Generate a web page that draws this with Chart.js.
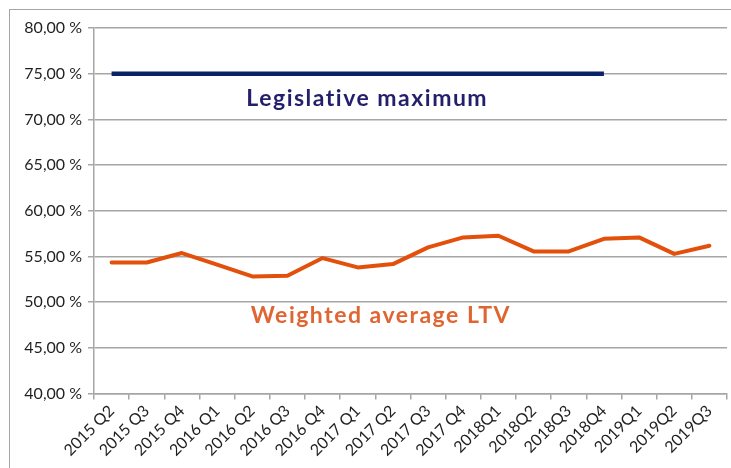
<!DOCTYPE html>
<html>
<head>
<meta charset="utf-8">
<script src="https://cdn.jsdelivr.net/npm/chart.js@4/dist/chart.umd.min.js"></script>
<style>
  html, body { margin:0; padding:0; background:#ffffff; }
  #wrap { position:relative; width:731px; height:468px; overflow:hidden; }
  #frame { position:absolute; left:9px; top:9px; width:800px; height:600px; border:1.5px solid #a6a6a6; box-sizing:border-box; }
  canvas { position:absolute; left:0; top:0; }
</style>
</head>
<body>
<div id="wrap">
  <div id="frame"></div>
  <canvas id="c" width="731" height="468"></canvas>
</div>
<script>
const categories = ["2015 Q2","2015 Q3","2015 Q4","2016 Q1","2016 Q2","2016 Q3","2016 Q4","2017 Q1","2017 Q2","2017 Q3","2017 Q4","2018Q1","2018Q2","2018Q3","2018Q4","2019Q1","2019Q2","2019Q3"];
const weightedLTV = [54.34, 54.34, 55.37, 54.1, 52.81, 52.89, 54.82, 53.8, 54.16, 55.99, 57.08, 57.26, 55.55, 55.55, 56.93, 57.08, 55.28, 56.17];
const legislativeMax = [75, 75, 75, 75, 75, 75, 75, 75, 75, 75, 75, 75, 75, 75, 75, null, null, null];
const yTickValues = [40, 45, 50, 55, 60, 65, 70, 75, 80];
const seriesLabels = ["Legislative maximum", "Weighted average LTV"];
// label anchor positions in data space: [category index (fractional), value]
const labelAnchors = [[7.27, 71.46], [7.66, 47.74]];

const GRID = '#a6a6a6';
const navy = '#0b2366';
const navyText = '#231f6b';
const orange = '#e2500c';
const orangeText = '#df6632';
const FONT = 'Lato, "Open Sans", sans-serif';

const labelPlugin = {
  id: 'seriesLabels',
  afterDatasetsDraw(chart) {
    const ctx = chart.ctx;
    const xs = chart.scales.x, ys = chart.scales.y;
    const step = xs.getPixelForValue(1) - xs.getPixelForValue(0);
    const colors = [navyText, orangeText];
    ctx.save();
    ctx.font = 'bold 23px ' + FONT;
    try { ctx.letterSpacing = '1.5px'; } catch (e) {}
    ctx.textAlign = 'center';
    ctx.textBaseline = 'alphabetic';
    labelAnchors.forEach((a, i) => {
      const x = xs.getPixelForValue(0) + a[0] * step;
      const y = ys.getPixelForValue(a[1]);
      ctx.fillStyle = colors[i];
      ctx.fillText(seriesLabels[i], x, y);
    });
    ctx.restore();
  }
};

new Chart(document.getElementById('c'), {
  type: 'line',
  data: {
    labels: categories,
    datasets: [
      { label: seriesLabels[0], data: legislativeMax, borderColor: navy, borderWidth: 4.5, pointRadius: 0, tension: 0, spanGaps: false, borderCapStyle: 'butt' },
      { label: seriesLabels[1], data: weightedLTV, borderColor: orange, borderWidth: 4, pointRadius: 0, tension: 0, borderCapStyle: 'round', borderJoinStyle: 'round' }
    ]
  },
  options: {
    responsive: false,
    animation: false,
    devicePixelRatio: 1,
    layout: { padding: { top: 28, right: 4, left: 0, bottom: 0 } },
    plugins: { legend: { display: false }, tooltip: { enabled: false } },
    scales: {
      x: {
        type: 'category',
        offset: true,
        grid: { offset: true, drawOnChartArea: false, drawTicks: true, tickLength: 6, color: GRID, lineWidth: 1.5 },
        border: { display: true, color: GRID, width: 1.5 },
        ticks: { autoSkip: false, minRotation: 45, maxRotation: 45, padding: 2, color: '#1f1f1f', font: { family: FONT, size: 16 } },
        afterFit(s) { s.height = 74.5; }
      },
      y: {
        min: 40, max: 80,
        afterBuildTicks(s) { s.ticks = yTickValues.map(v => ({ value: v })); },
        grid: { drawOnChartArea: true, drawTicks: true, tickLength: 6, color: GRID, lineWidth: 1.5 },
        border: { display: true, color: GRID, width: 1.5 },
        ticks: { padding: 6, color: '#1f1f1f', font: { family: FONT, size: 16 },
          callback: v => v.toFixed(2).replace('.', ',') + ' %' },
        afterFit(s) { s.width = 94; }
      }
    }
  },
  plugins: [labelPlugin]
});
</script>
</body>
</html>
